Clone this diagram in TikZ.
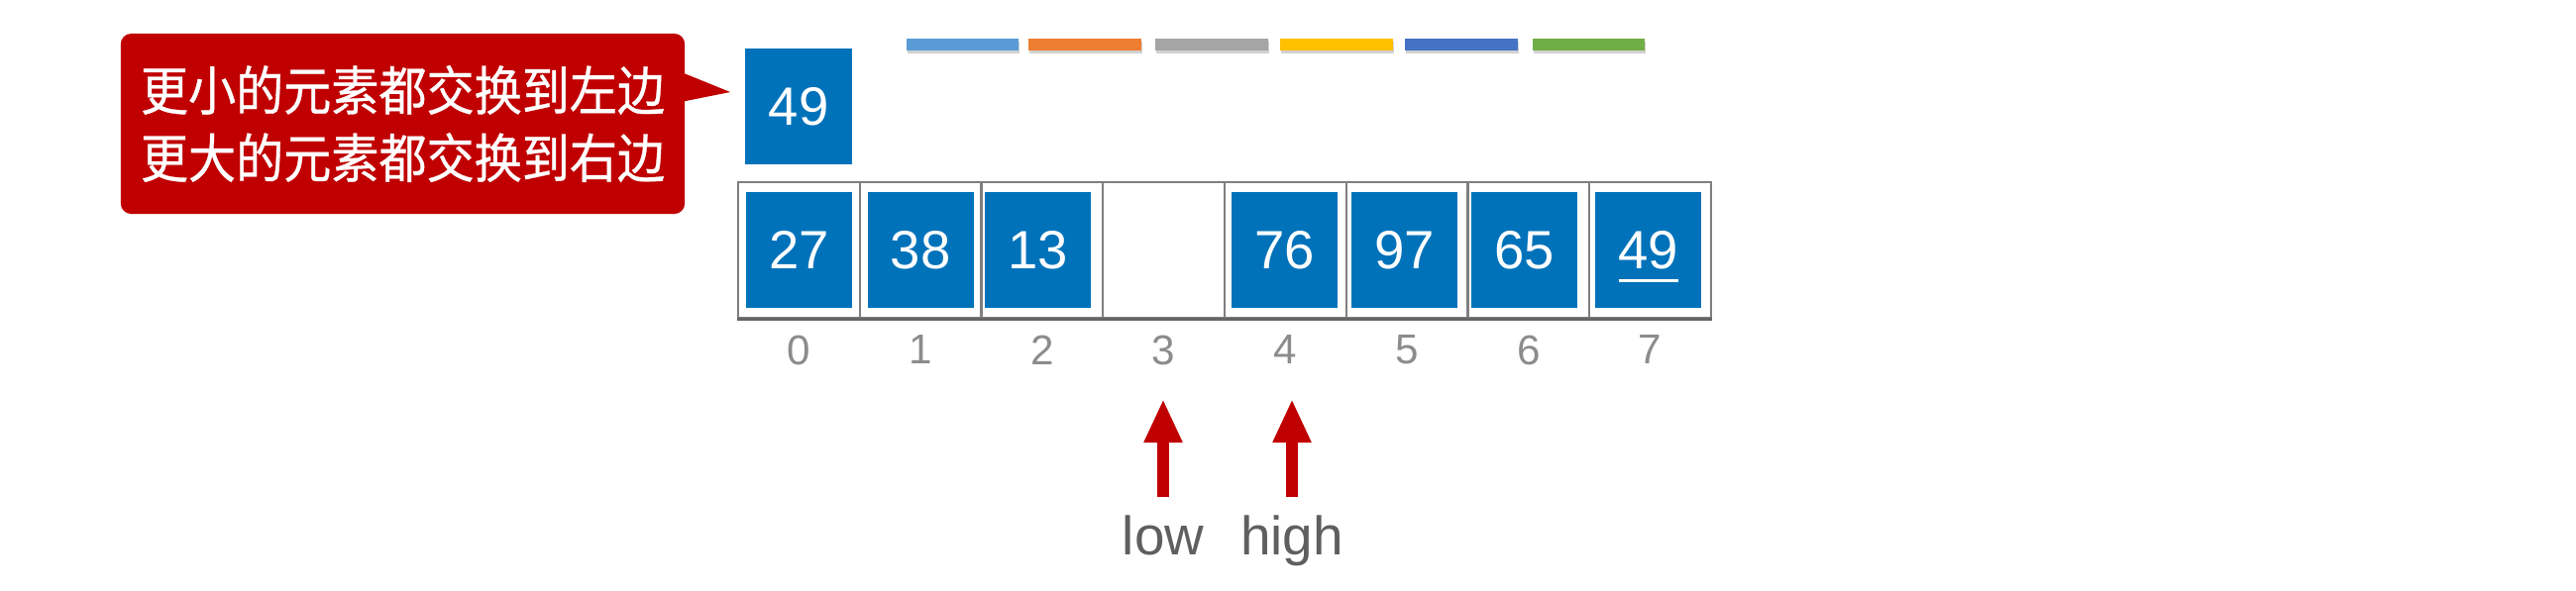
\documentclass[tikz,border=0pt]{standalone}
\usepackage{fontspec}
\setmainfont{Liberation Sans}
\newfontfamily\cjk[FakeStretch=0.9, FakeBold=0.6]{Noto Sans CJK SC}
\definecolor{cellblue}{HTML}{0072BA}
\definecolor{notered}{HTML}{C00000}
\definecolor{framegray}{HTML}{7F7F7F}
\definecolor{idxgray}{HTML}{8C8C8C}
\definecolor{ptrgray}{HTML}{5F5F5F}
\definecolor{barblue}{HTML}{5B9BD5}
\definecolor{barorange}{HTML}{ED7D31}
\definecolor{bargray}{HTML}{A5A5A5}
\definecolor{baryellow}{HTML}{FFC000}
\definecolor{bardblue}{HTML}{4472C4}
\definecolor{bargreen}{HTML}{70AD47}
\usetikzlibrary{calc, positioning, arrows.meta, shadows}

\begin{document}
\begin{tikzpicture}[x=0.01cm, y=-0.01cm,
  note/.style={fill=notered, rounded corners=3pt, text=white,
               minimum width=5.69cm, minimum height=1.82cm, align=center,
               font=\cjk\fontsize{15.2}{19.4}\selectfont, inner sep=0pt},
  cell/.style={draw=framegray, line width=0.6pt,
               minimum width=1.2275cm, minimum height=1.37cm, inner sep=0pt},
  item/.style={fill=cellblue, text=white, minimum width=1.07cm,
               minimum height=1.17cm, inner sep=0pt,
               font=\fontsize{15.5}{18}\selectfont},
  idx/.style={text=idxgray, font=\fontsize{12}{14}\selectfont, inner sep=0pt},
  bar/.style={minimum width=1.13cm, minimum height=0.12cm, inner sep=0pt,
              drop shadow={shadow xshift=0.01cm, shadow yshift=-0.03cm,
                           fill=black, opacity=0.18}},
  ptr/.style={text=ptrgray, font=\fontsize{15.6}{18}\selectfont,
              inner sep=0pt, anchor=base},
  uparrow/.style={draw=notered, line width=0.12cm, shorten <=0.18cm,
                  -{Triangle[width=0.36cm, length=0.44cm]}},
]
\useasboundingbox (0,0) rectangle (2600,596);

\node[note] (note) at (406.5,125) {更小的元素都交换到左边\\更大的元素都交换到右边};
\node[item] (pivot) at (806,107.5) {49};
\coordinate (tip) at (737,93);
\fill[notered] ($(note.north east)+(-1,41)$) -- (tip) -- ($(note.north east)+(-1,69)$) -- cycle;

\node[bar, fill=barblue]   (bar1) at (971.5,45) {};
\node[bar, fill=barorange] (bar2) at (1095,45) {};
\node[bar, fill=bargray]   (bar3) at (1223,45) {};
\node[bar, fill=baryellow] (bar4) at (1349,45) {};
\node[bar, fill=bardblue]  (bar5) at (1475,45) {};
\node[bar, fill=bargreen]  (bar6) at (1603.5,45) {};

\node[cell] (c0) at (806.4,252.5) {};
\node[cell] (c1) at (929.1,252.5) {};
\node[cell] (c2) at (1051.9,252.5) {};
\node[cell] (c3) at (1174.6,252.5) {};
\node[cell] (c4) at (1297.4,252.5) {};
\node[cell] (c5) at (1420.1,252.5) {};
\node[cell] (c6) at (1542.9,252.5) {};
\node[cell] (c7) at (1665.6,252.5) {};
\draw[framegray!80!black, line width=0.9pt] (c0.south west) -- (c7.south east);

\node[item] (v0) at (c0) {27};
\node[item] (v1) at (c1) {38};
\node[item] (v2) at (1047.5,252.5) {13};
\node[item] (v4) at (1296.5,252.5) {76};
\node[item] (v5) at (1417.5,252.5) {97};
\node[item] (v6) at (1538.5,252.5) {65};
\node[item] (v7) at (1663.5,252.5) {49};
\draw[white, line width=0.03cm] ($(v7.center)+(-30,31)$) -- ($(v7.center)+(30,31)$);

\node[idx, below=0.16cm of c0] (i0) {0};
\node[idx, below=0.16cm of c1] (i1) {1};
\node[idx, below=0.16cm of c2] (i2) {2};
\node[idx, below=0.16cm of c3] (i3) {3};
\node[idx, below=0.16cm of c4] (i4) {4};
\node[idx, below=0.16cm of c5] (i5) {5};
\node[idx, below=0.16cm of c6] (i6) {6};
\node[idx, below=0.16cm of c7] (i7) {7};

\node[ptr] (low) at (1174,560) {low};
\node[ptr] (high) at (1304,560) {high};
\coordinate (lowtip) at (1174,403);
\coordinate (hightip) at (1304,403);
\draw[uparrow] (low.north) -- (lowtip);
\draw[uparrow] (high.north) -- (hightip);
\end{tikzpicture}
\end{document}
